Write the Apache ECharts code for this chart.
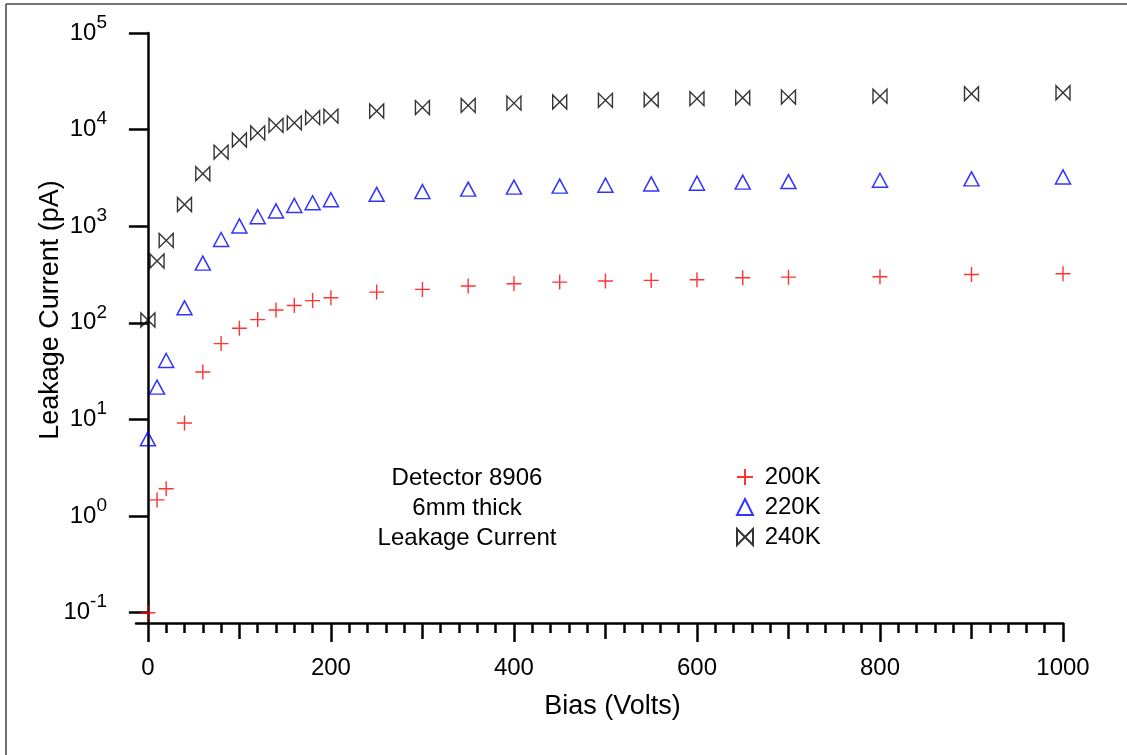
<!DOCTYPE html>
<html>
<head>
<meta charset="utf-8">
<script src="https://cdn.jsdelivr.net/npm/echarts@6/dist/echarts.min.js"></script>
<style>
html, body { margin: 0; padding: 0; background: #fff; }
#chart { width: 1127px; height: 755px; }
</style>
</head>
<body>
<div id="chart"></div>
<script>
// bias voltages (V)
var BIAS = [0, 10, 20, 40, 60, 80, 100, 120, 140, 160, 180, 200, 250, 300, 350, 400, 450, 500, 550, 600, 650, 700, 800, 900, 1000];
// leakage current (pA) per temperature
var I_200K = [0.1, 1.47, 1.92, 9.2, 31, 61, 88, 108, 136, 151, 170, 182, 208, 222, 241, 254, 264, 271, 275, 279, 293, 297, 300, 316, 322];
var I_220K = [6.3, 21.6, 40.8, 143, 415, 728, 1007, 1254, 1440, 1640, 1750, 1880, 2140, 2280, 2420, 2540, 2600, 2660, 2740, 2790, 2860, 2900, 2990, 3090, 3240];
var I_240K = [107, 436, 713, 1680, 3490, 5850, 7800, 9250, 11060, 11750, 13300, 13800, 15600, 16900, 17800, 18800, 19300, 20100, 20400, 20900, 21400, 21700, 22200, 23500, 24100];
var SERIES_NAMES = ['200K', '220K', '240K'];

// tick positions
var X_MAJOR = [0, 200, 400, 600, 800, 1000];
var X_MID = [100, 300, 500, 700, 900];
var X_MINOR = [];
for (var v = 20; v < 1000; v += 20) { if (v % 100 !== 0) X_MINOR.push(v); }
var Y_TICKS = [0.1, 1, 10, 100, 1000, 10000, 100000];

var NOTE = ['Detector 8906', '6mm thick', 'Leakage Current'];

var FONT = '"Liberation Sans", Arial, sans-serif';

function pairs(ys) {
    return BIAS.map(function (x, i) { return [x, ys[i]]; });
}

var chart = echarts.init(document.getElementById('chart'));

var xBase = {
    type: 'value', min: -13, max: 1000, position: 'bottom',
    splitLine: { show: false }
};

chart.setOption({
    animation: false,
    backgroundColor: '#fff',
    textStyle: { fontFamily: FONT },
    grid: { left: 136, right: 64, top: 33, bottom: 132, outerBoundsMode: 'none' },
    legend: {
        orient: 'vertical',
        left: 736, top: 465,
        padding: 0,
        itemWidth: 16, itemHeight: 16,
        itemGap: 6,
        data: SERIES_NAMES,
        formatter: function (n) { return ' ' + n; },
        textStyle: { fontSize: 24, color: '#000', fontFamily: FONT, lineHeight: 24 },
        itemStyle: { borderWidth: 2 }
    },
    xAxis: [
        Object.assign({}, xBase, {
            axisLine: { lineStyle: { color: '#000', width: 2.5 } },
            axisTick: { length: 19, lineStyle: { color: '#000', width: 2.5 }, customValues: X_MAJOR },
            axisLabel: {
                customValues: X_MAJOR, margin: 33, fontSize: 24, color: '#000', fontFamily: FONT,
                formatter: function (val) { return String(val); }
            },
            name: 'Bias (Volts)',
            nameLocation: 'middle',
            nameGap: 70,
            nameMoveOverlap: false,
            nameTextStyle: { fontSize: 27, color: '#000', fontFamily: FONT, padding: [0, 0, 0, 26] }
        }),
        Object.assign({}, xBase, {
            axisLine: { show: false },
            axisTick: { length: 16, lineStyle: { color: '#000', width: 2.5 }, customValues: X_MID },
            axisLabel: { show: false }
        }),
        Object.assign({}, xBase, {
            axisLine: { show: false },
            axisTick: { length: 10, lineStyle: { color: '#000', width: 2.5 }, customValues: X_MINOR },
            axisLabel: { show: false }
        })
    ],
    yAxis: {
        type: 'log', logBase: 10, min: 0.0782, max: 100000,
        splitLine: { show: false },
        axisLine: { show: true, lineStyle: { color: '#000', width: 2.5 } },
        axisTick: { show: true, length: 19, lineStyle: { color: '#000', width: 2.5 }, customValues: Y_TICKS },
        axisLabel: {
            customValues: Y_TICKS,
            margin: 29,
            color: '#000',
            formatter: function (val) {
                var e = Math.round(Math.log10(val));
                return '{b|10}{s|' + e + '}';
            },
            rich: {
                b: { fontSize: 24, fontFamily: FONT, color: '#000', verticalAlign: 'middle', lineHeight: 24 },
                s: { fontSize: 19, fontFamily: FONT, color: '#000', verticalAlign: 'top', lineHeight: 40 }
            }
        },
        name: 'Leakage Current (pA)',
        nameLocation: 'middle',
        nameRotate: 90,
        nameGap: 72,
        nameMoveOverlap: false,
        nameTextStyle: { fontSize: 27, color: '#000', fontFamily: FONT, padding: [0, 0, 0, 36] }
    },
    graphic: [
        { type: 'line', shape: { x1: 6, y1: 4, x2: 1127, y2: 4 }, style: { stroke: '#444', lineWidth: 1.5 }, silent: true },
        { type: 'line', shape: { x1: 6, y1: 4, x2: 6, y2: 755 }, style: { stroke: '#444', lineWidth: 1.5 }, silent: true },
        {
            type: 'text', x: 467, y: 508, silent: true,
            style: {
                text: NOTE.join('\n'),
                textAlign: 'center', textVerticalAlign: 'middle',
                fontSize: 24, lineHeight: 30, fontFamily: FONT, fill: '#000'
            }
        }
    ],
    series: [
        {
            name: SERIES_NAMES[0], type: 'scatter', xAxisIndex: 0,
            symbol: 'path://M0,5L10,5M5,0L5,10', symbolSize: 15,
            itemStyle: { color: 'rgba(0,0,0,0)', borderColor: '#ff0000', borderWidth: 1.4 },
            data: pairs(I_200K)
        },
        {
            name: SERIES_NAMES[1], type: 'scatter', xAxisIndex: 0,
            symbol: 'triangle', symbolSize: [15, 14],
            itemStyle: { color: 'rgba(0,0,0,0)', borderColor: '#0000ff', borderWidth: 1.5 },
            data: pairs(I_220K)
        },
        {
            name: SERIES_NAMES[2], type: 'scatter', xAxisIndex: 0,
            symbol: 'path://M0,0L0,10L10,0L10,10Z', symbolSize: 14,
            itemStyle: { color: 'rgba(0,0,0,0)', borderColor: '#000000', borderWidth: 1.4 },
            data: pairs(I_240K)
        }
    ]
});
</script>
</body>
</html>
